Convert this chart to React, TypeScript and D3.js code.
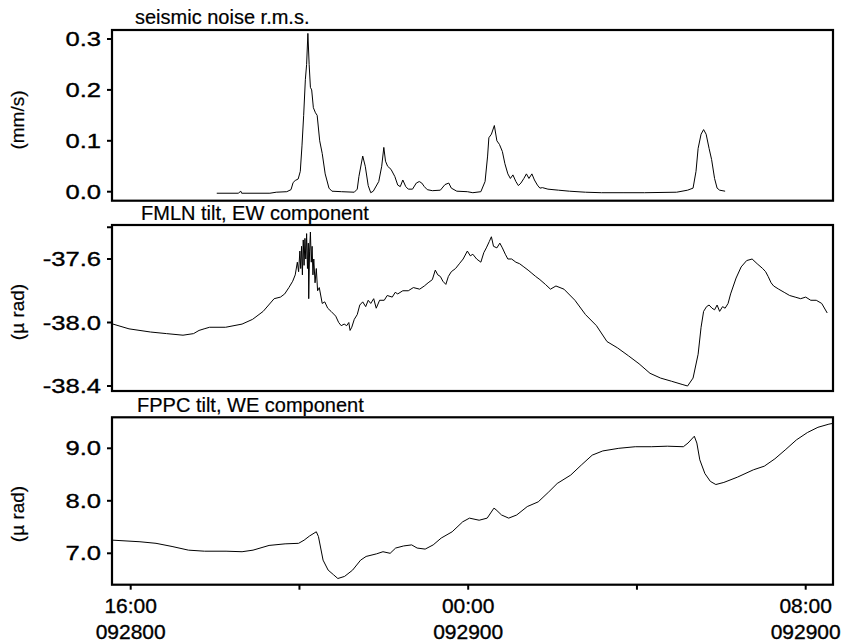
import React from 'react';
import * as d3 from 'd3';

// ---- data (hours after 16:00 on 09/28) ----
const seismicHours = [2.04, 2.55, 2.61, 2.63, 3.30, 3.45, 3.70, 3.80, 3.85, 3.90, 3.97, 4.02, 4.06, 4.10, 4.14, 4.17, 4.20, 4.23, 4.26, 4.29, 4.33, 4.38, 4.42, 4.48, 4.54, 4.61, 4.70, 4.77, 5.00, 5.30, 5.37, 5.41, 5.50, 5.56, 5.63, 5.69, 5.75, 5.88, 5.95, 6.00, 6.04, 6.09, 6.17, 6.26, 6.33, 6.39, 6.45, 6.52, 6.58, 6.68, 6.77, 6.84, 6.90, 6.96, 7.03, 7.15, 7.34, 7.45, 7.54, 7.60, 7.73, 7.98, 8.11, 8.30, 8.40, 8.46, 8.49, 8.55, 8.62, 8.68, 8.74, 8.81, 8.87, 8.94, 9.00, 9.06, 9.13, 9.19, 9.25, 9.32, 9.38, 9.44, 9.51, 9.57, 9.64, 9.70, 9.76, 9.89, 10.14, 10.40, 10.78, 11.16, 11.67, 12.18, 12.94, 13.20, 13.33, 13.40, 13.45, 13.52, 13.58, 13.64, 13.71, 13.77, 13.84, 13.90, 13.96, 14.09];
const seismicValues = [-0.003, -0.003, 0.001, -0.003, -0.003, -0.001, 0.000, 0.004, 0.018, 0.022, 0.025, 0.040, 0.090, 0.150, 0.220, 0.250, 0.311, 0.250, 0.205, 0.200, 0.165, 0.155, 0.150, 0.100, 0.075, 0.035, 0.007, 0.001, 0.000, -0.001, 0.005, 0.030, 0.070, 0.050, 0.012, -0.002, 0.001, 0.020, 0.050, 0.087, 0.060, 0.050, 0.044, 0.030, 0.013, 0.010, 0.023, 0.010, 0.005, 0.005, 0.017, 0.020, 0.017, 0.010, 0.004, 0.002, 0.003, 0.014, 0.017, 0.007, 0.001, 0.000, -0.002, 0.000, 0.020, 0.070, 0.106, 0.113, 0.130, 0.100, 0.093, 0.079, 0.055, 0.035, 0.026, 0.033, 0.020, 0.012, 0.017, 0.026, 0.035, 0.026, 0.035, 0.023, 0.013, 0.007, 0.008, 0.005, 0.003, 0.001, -0.001, -0.002, -0.002, -0.002, -0.001, 0.003, 0.007, 0.040, 0.085, 0.113, 0.122, 0.113, 0.085, 0.063, 0.026, 0.007, 0.003, 0.001];

const ewHours = [-0.42, -0.04, 0.47, 0.85, 1.24, 1.49, 1.62, 1.74, 1.87, 2.25, 2.64, 2.89, 3.14, 3.40, 3.55, 3.65, 3.75, 3.84, 3.90, 3.95, 3.98, 4.01, 4.03, 4.05, 4.07, 4.09, 4.11, 4.13, 4.15, 4.17, 4.19, 4.21, 4.22, 4.24, 4.26, 4.28, 4.30, 4.32, 4.34, 4.37, 4.40, 4.43, 4.47, 4.54, 4.60, 4.67, 4.75, 4.86, 4.93, 4.99, 5.06, 5.12, 5.17, 5.20, 5.24, 5.30, 5.37, 5.43, 5.50, 5.57, 5.63, 5.69, 5.76, 5.82, 5.90, 6.01, 6.08, 6.20, 6.27, 6.33, 6.45, 6.58, 6.70, 6.85, 6.96, 7.05, 7.15, 7.22, 7.28, 7.34, 7.40, 7.47, 7.53, 7.60, 7.70, 7.79, 7.88, 7.98, 8.05, 8.11, 8.20, 8.30, 8.37, 8.43, 8.50, 8.55, 8.60, 8.68, 8.75, 8.81, 8.88, 8.94, 9.03, 9.13, 9.22, 9.32, 9.42, 9.51, 9.60, 9.70, 9.83, 9.95, 10.08, 10.27, 10.53, 10.78, 11.04, 11.29, 11.54, 11.80, 12.05, 12.31, 12.56, 12.82, 13.07, 13.20, 13.33, 13.45, 13.52, 13.58, 13.65, 13.71, 13.78, 13.84, 13.90, 13.96, 14.03, 14.09, 14.16, 14.22, 14.35, 14.47, 14.60, 14.73, 14.85, 14.98, 15.05, 15.11, 15.18, 15.24, 15.36, 15.49, 15.62, 15.75, 15.88, 16.00, 16.12, 16.25, 16.38, 16.51, 16.64];
const ewValues = [-38.01, -38.04, -38.06, -38.07, -38.08, -38.07, -38.05, -38.04, -38.03, -38.03, -38.01, -37.98, -37.93, -37.85, -37.84, -37.82, -37.78, -37.74, -37.70, -37.62, -37.68, -37.55, -37.66, -37.52, -37.70, -37.48, -37.64, -37.47, -37.60, -37.44, -37.66, -37.50, -37.85, -37.55, -37.43, -37.62, -37.52, -37.70, -37.60, -37.75, -37.66, -37.80, -37.78, -37.88, -37.87, -37.91, -37.93, -37.96, -38.00, -38.02, -38.01, -38.02, -38.00, -38.05, -38.03, -37.98, -37.95, -37.89, -37.87, -37.90, -37.86, -37.88, -37.85, -37.91, -37.86, -37.86, -37.83, -37.84, -37.81, -37.82, -37.80, -37.80, -37.78, -37.79, -37.77, -37.75, -37.73, -37.67, -37.70, -37.71, -37.74, -37.76, -37.71, -37.68, -37.66, -37.63, -37.60, -37.55, -37.58, -37.57, -37.60, -37.62, -37.56, -37.53, -37.49, -37.46, -37.52, -37.53, -37.50, -37.53, -37.57, -37.60, -37.60, -37.62, -37.63, -37.65, -37.67, -37.69, -37.71, -37.73, -37.76, -37.79, -37.77, -37.79, -37.86, -37.95, -38.02, -38.12, -38.16, -38.21, -38.26, -38.32, -38.35, -38.37, -38.39, -38.40, -38.35, -38.20, -38.03, -37.93, -37.90, -37.89, -37.91, -37.92, -37.89, -37.93, -37.90, -37.91, -37.88, -37.82, -37.72, -37.65, -37.61, -37.60, -37.63, -37.66, -37.68, -37.71, -37.75, -37.77, -37.79, -37.81, -37.83, -37.84, -37.85, -37.84, -37.86, -37.86, -37.88, -37.94];

const weHours = [-0.42, 0.22, 0.60, 0.98, 1.37, 1.75, 2.26, 2.64, 2.90, 3.28, 3.66, 3.98, 4.11, 4.24, 4.40, 4.45, 4.56, 4.68, 4.81, 4.91, 5.07, 5.26, 5.45, 5.58, 5.83, 5.98, 6.15, 6.28, 6.47, 6.66, 6.79, 6.98, 7.17, 7.36, 7.62, 7.87, 8.03, 8.26, 8.45, 8.61, 8.66, 8.79, 8.96, 9.15, 9.40, 9.66, 9.91, 10.11, 10.43, 10.68, 10.94, 11.19, 11.57, 11.96, 12.34, 12.72, 13.10, 13.21, 13.36, 13.42, 13.49, 13.61, 13.74, 13.87, 14.06, 14.38, 14.76, 15.02, 15.27, 15.53, 15.78, 16.04, 16.29, 16.55, 16.68];
const weValues = [7.25, 7.22, 7.19, 7.13, 7.06, 7.04, 7.04, 7.03, 7.06, 7.15, 7.18, 7.19, 7.25, 7.33, 7.41, 7.32, 6.87, 6.68, 6.59, 6.52, 6.56, 6.68, 6.87, 6.94, 6.99, 7.03, 7.00, 7.10, 7.14, 7.16, 7.10, 7.08, 7.16, 7.29, 7.41, 7.60, 7.67, 7.63, 7.67, 7.86, 7.83, 7.73, 7.67, 7.73, 7.89, 7.98, 8.17, 8.33, 8.49, 8.68, 8.87, 8.95, 9.00, 9.03, 9.03, 9.04, 9.03, 9.10, 9.23, 9.10, 8.78, 8.52, 8.37, 8.31, 8.35, 8.45, 8.59, 8.66, 8.80, 8.98, 9.16, 9.30, 9.40, 9.46, 9.48];

const seismicTicks = [0, 0.1, 0.2, 0.3];
const seismicTickLabels = ['0.0', '0.1', '0.2', '0.3'];
const ewTicks = [-37.4, -37.6, -38.0, -38.4];
const ewTickLabels = ['', '-37.6', '-38.0', '-38.4'];
const weTicks = [7, 8, 9];
const weTickLabels = ['7.0', '8.0', '9.0'];
const timeTicks = [0, 4, 8, 12, 16];
const timeLabels = ['16:00', '', '00:00', '', '08:00'];
const dateLabels = ['092800', '', '092900', '', '092900'];
const panelTitles = ['seismic noise r.m.s.', 'FMLN tilt, EW component', 'FPPC tilt, WE component'];
const unitLabels = ['(mm/s)', '(\u00b5 rad)', '(\u00b5 rad)'];

const FONT = '"Liberation Sans", Arial, Helvetica, sans-serif';
const LEFT = 112;
const RIGHT = 833;

const x = d3.scaleLinear().domain([0, 16]).range([130.7, 805.7]);

const panels = [
  { hours: seismicHours, values: seismicValues, ticks: seismicTicks, labels: seismicTickLabels,
    top: 30, bottom: 200.7, domain: [0, 0.3], range: [191.7, 39], titleX: 135, titleY: 24, unitY: 120 },
  { hours: ewHours, values: ewValues, ticks: ewTicks, labels: ewTickLabels,
    top: 225, bottom: 391, domain: [-38.4, -37.6], range: [386, 259], titleX: 141, titleY: 219.5, unitY: 312 },
  { hours: weHours, values: weValues, ticks: weTicks, labels: weTickLabels,
    top: 417.3, bottom: 584.7, domain: [7, 9], range: [553.3, 448.3], titleX: 137, titleY: 412, unitY: 514 },
];

const TXT = { fill: '#000', stroke: '#000', strokeWidth: 0.35 };

export default function App() {
  const bottom = panels[2].bottom;
  return (
    <svg width={843} height={643} style={{ position: 'absolute', left: 0, top: 0, background: '#fff' }}
      fontFamily={FONT}>
      <rect x={0} y={0} width={843} height={643} fill="#fff" />
      <defs>
        {panels.map((p, i) => (
          <clipPath id={`clip${i}`} key={i}>
            <rect x={LEFT} y={p.top} width={RIGHT - LEFT} height={p.bottom - p.top} />
          </clipPath>
        ))}
      </defs>
      {panels.map((p, i) => {
        const y = d3.scaleLinear().domain(p.domain).range(p.range);
        const pts: [number, number][] = p.hours.map((h, k) => [h, p.values[k]]);
        const line = d3.line<[number, number]>().x(d => x(d[0])).y(d => y(d[1]));
        return (
          <g key={i}>
            <path d={line(pts) || ''} fill="none" stroke="#000" strokeWidth={1} clipPath={`url(#clip${i})`} />
            <rect x={LEFT} y={p.top} width={RIGHT - LEFT} height={p.bottom - p.top}
              fill="none" stroke="#000" strokeWidth={2.2} />
            {p.ticks.map((t, k) => (
              <g key={k}>
                <line x1={LEFT - 5} x2={LEFT} y1={y(t)} y2={y(t)} stroke="#000" strokeWidth={2} />
                {p.labels[k] && (
                  <text transform={`translate(101,${y(t) + 7}) scale(1.28,1)`} textAnchor="end" fontSize={20} {...TXT}>
                    {p.labels[k]}
                  </text>
                )}
              </g>
            ))}
            <text x={p.titleX} y={p.titleY} fontSize={20} {...TXT} strokeWidth={0.2}>{panelTitles[i]}</text>
            <text transform={`translate(24,${p.unitY}) rotate(-90)`} textAnchor="middle" fontSize={19} {...TXT} strokeWidth={0.2}>
              {unitLabels[i]}
            </text>
          </g>
        );
      })}
      {timeTicks.map((t, k) => (
        <g key={k}>
          <line x1={x(t)} x2={x(t)} y1={bottom} y2={bottom + 5} stroke="#000" strokeWidth={2} />
          {timeLabels[k] && (
            <text x={x(t)} y={613} textAnchor="middle" fontSize={21} {...TXT}>{timeLabels[k]}</text>
          )}
          {dateLabels[k] && (
            <text x={x(t)} y={639} textAnchor="middle" fontSize={21} {...TXT}>{dateLabels[k]}</text>
          )}
        </g>
      ))}
    </svg>
  );
}
